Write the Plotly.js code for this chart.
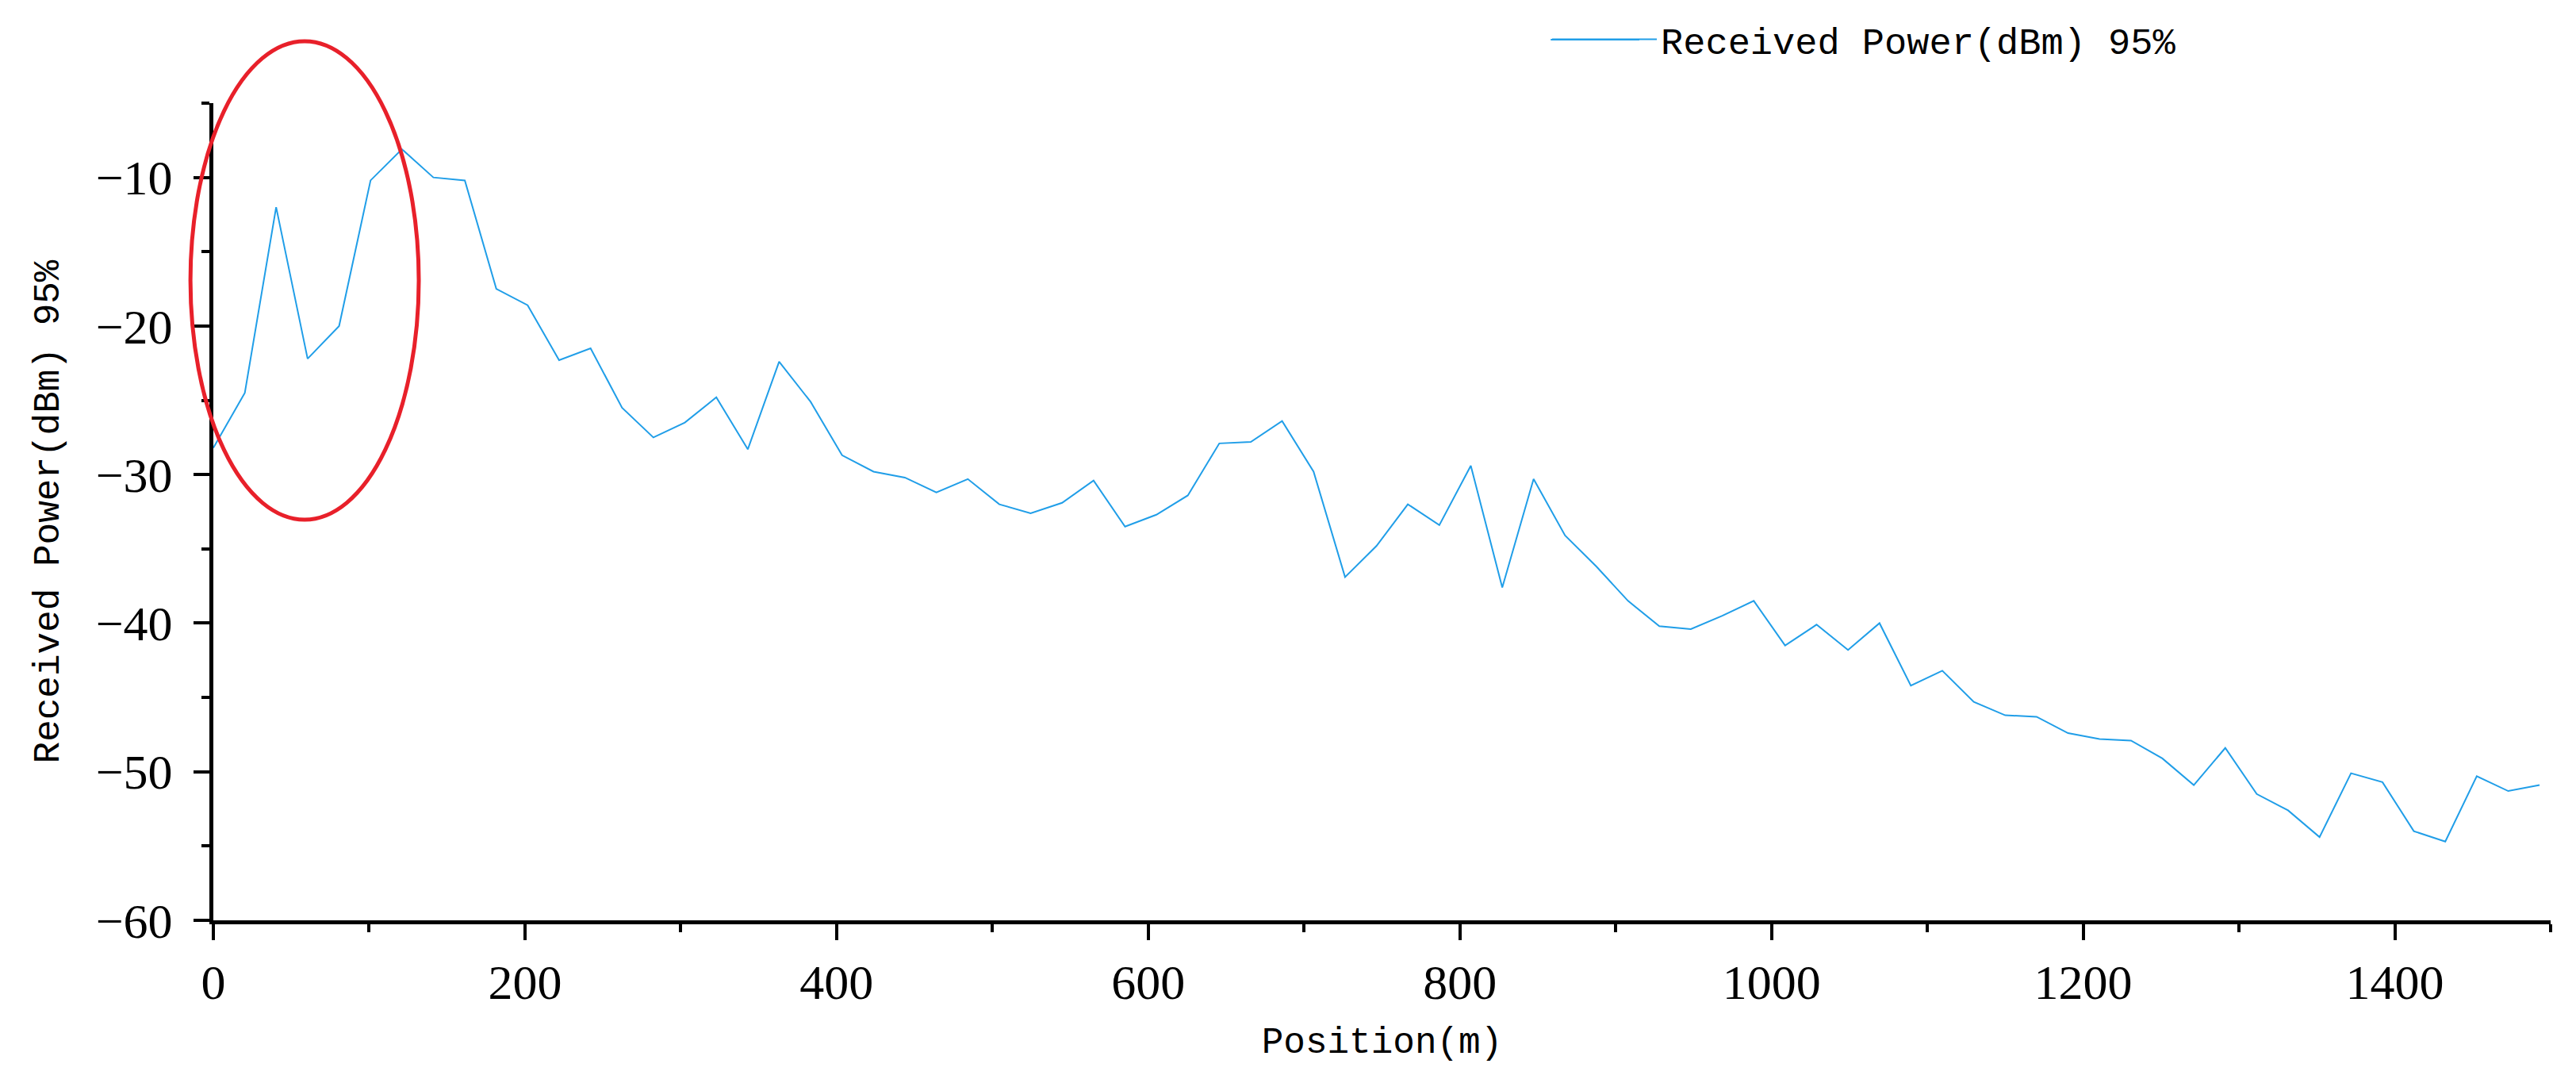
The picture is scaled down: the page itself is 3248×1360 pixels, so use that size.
<!DOCTYPE html>
<html>
<head>
<meta charset="utf-8">
<script src="https://cdn.plot.ly/plotly-3.0.1.min.js"></script>
<style>
  html, body { margin: 0; padding: 0; background: #ffffff; }
  #chart { width: 3248px; height: 1360px; }
</style>
</head>
<body>
<div id="chart"></div>
<script>
// Position along the route (m)
const positions = [
  0, 20.2, 40.3, 60.5, 80.7, 100.9, 121.0, 141.2, 161.4, 181.6,
  201.7, 221.9, 242.1, 262.3, 282.4, 302.6, 322.8, 343.0, 363.1, 383.3,
  403.5, 423.7, 443.8, 464.0, 484.2, 504.4, 524.5, 544.7, 564.9, 585.1,
  605.2, 625.4, 645.6, 665.8, 685.9, 706.1, 726.3, 746.5, 766.6, 786.8,
  807.0, 827.2, 847.3, 867.5, 887.7, 907.9, 928.0, 948.2, 968.4, 988.6,
  1008.7, 1028.9, 1049.1, 1069.3, 1089.4, 1109.6, 1129.8, 1150.0, 1170.1, 1190.3,
  1210.5, 1230.7, 1250.8, 1271.0, 1291.2, 1311.4, 1331.5, 1351.7, 1371.9, 1392.1,
  1412.2, 1432.4, 1452.6, 1472.8, 1492.9
];

// Received power, 95% (dBm)
const receivedPower95 = [
  -28.2, -24.5, -12.0, -22.2, -20.0, -10.2, -8.1, -10.0, -10.2, -17.5,
  -18.6, -22.3, -21.5, -25.5, -27.5, -26.5, -24.8, -28.3, -22.4, -25.1,
  -28.7, -29.8, -30.2, -31.2, -30.3, -32.0, -32.6, -31.9, -30.4, -33.5,
  -32.7, -31.4, -27.9, -27.8, -26.4, -29.8, -36.9, -34.8, -32.0, -33.4,
  -29.4, -37.6, -30.3, -34.1, -36.2, -38.5, -40.2, -40.4, -39.5, -38.5,
  -41.5, -40.1, -41.8, -40.0, -44.2, -43.2, -45.3, -46.2, -46.3, -47.4,
  -47.8, -47.9, -49.1, -50.9, -48.4, -51.5, -52.6, -54.4, -50.1, -50.7,
  -54.0, -54.7, -50.3, -51.3, -50.9
];

const seriesName = "Received Power(dBm) 95%";
const xTitle = "Position(m)";
const yTitle = "Received Power(dBm) 95%";

const lineColor = "rgb(32,158,232)";
const tickFont = { family: "Liberation Serif, Times New Roman, serif", size: 62, color: "#000000" };
const textFont = { family: "Liberation Mono, DejaVu Sans Mono, monospace", size: 46, color: "#000000" };

const trace = {
  x: positions,
  y: receivedPower95,
  type: "scatter",
  mode: "lines",
  name: seriesName,
  line: { color: lineColor, width: 2 }
};

const layout = {
  width: 3248,
  height: 1360,
  paper_bgcolor: "#ffffff",
  plot_bgcolor: "#ffffff",
  margin: { l: 269, r: 32, t: 130, b: 200, pad: 0 },
  showlegend: true,
  legend: {
    x: 0.5711, xanchor: "left",
    y: 1.0777, yanchor: "middle",
    bgcolor: "rgba(0,0,0,0)",
    borderwidth: 0,
    itemwidth: 132,
    font: { family: textFont.family, size: 47, color: "#000000" }
  },
  xaxis: {
    range: [0, 1500],
    tick0: 0, dtick: 200,
    ticks: "outside", ticklen: 20, tickwidth: 4, tickcolor: "#000000",
    minor: { dtick: 100, ticks: "outside", ticklen: 10, tickwidth: 4, tickcolor: "#000000" },
    showline: true, linecolor: "#000000", linewidth: 5, mirror: false,
    showgrid: false, zeroline: false,
    tickfont: tickFont,
    ticklabelstandoff: 0,
    title: { text: xTitle, font: textFont, standoff: 25 },
    automargin: false
  },
  yaxis: {
    range: [-60, -5],
    tick0: -60, dtick: 10,
    ticks: "outside", ticklen: 20, tickwidth: 4, tickcolor: "#000000",
    minor: { dtick: 5, ticks: "outside", ticklen: 10, tickwidth: 4, tickcolor: "#000000" },
    showline: true, linecolor: "#000000", linewidth: 5, mirror: false,
    showgrid: false, zeroline: false,
    tickfont: tickFont,
    ticklabelstandoff: 14,
    title: { text: yTitle, font: textFont, standoff: 33 },
    automargin: false
  },
  shapes: [
    {
      // red highlight ellipse around the near-field region
      type: "circle",
      xref: "paper", yref: "paper",
      x0: -0.0098, x1: 0.0879,
      y0: 0.4903, y1: 1.0757,
      line: { color: "#E8202A", width: 5 },
      fillcolor: "rgba(0,0,0,0)",
      layer: "above"
    },
    {
      // lengthens the legend key line to the reference's key length
      type: "line",
      xref: "paper", yref: "paper",
      x0: 0.5722, x1: 0.6101,
      y0: 1.0777, y1: 1.0777,
      line: { color: lineColor, width: 2 }
    }
  ]
};

Plotly.newPlot("chart", [trace], layout, { displayModeBar: false, staticPlot: true });
</script>
</body>
</html>
